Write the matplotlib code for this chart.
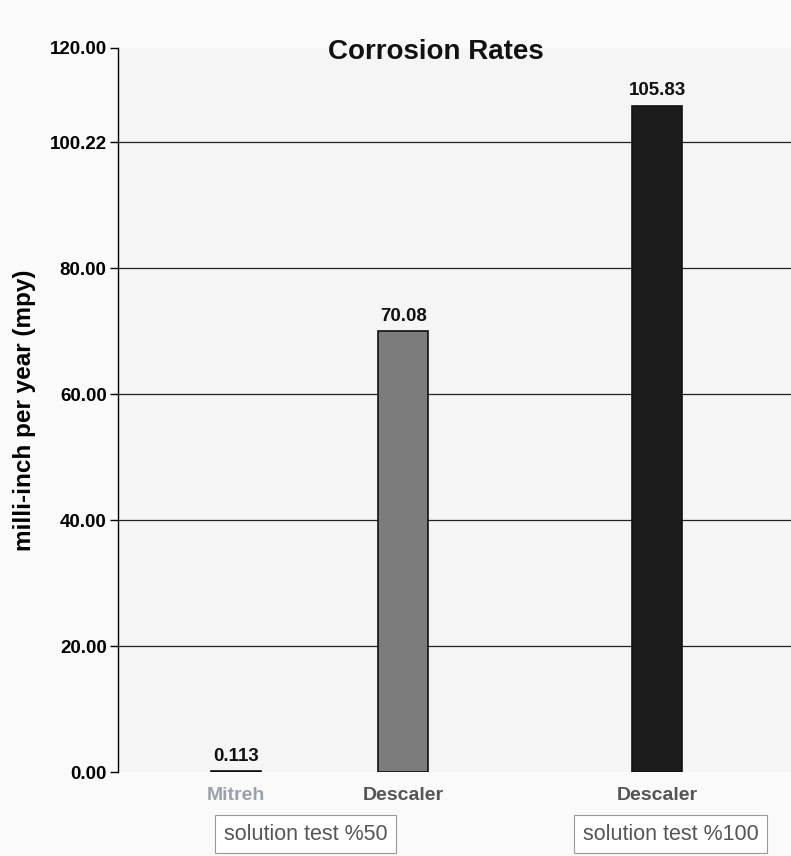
import matplotlib.pyplot as plt
import numpy as np

plt.rcParams['font.family'] = ['Liberation Sans', 'DejaVu Sans']

# values
categories = ['Mitreh', 'Descaler', 'Descaler']
rates = [0.113, 70.08, 105.83]
value_labels = ['0.113', '70.08', '105.83']
groups = ['solution test %50', 'solution test %100']
y_tick_labels = ['0.00', '20.00', '40.00', '60.00', '80.00', '100.22', '120.00']

bar_colors = ['#8a8f96', '#7c7c7c', '#1c1c1c']
label_colors = ['#9aa1aa', '#555555', '#555555']

fig = plt.figure(figsize=(7.91, 8.56), dpi=100)
fig.patch.set_facecolor('#fafafa')
ax = fig.add_axes([0.149, 0.098, 0.851, 0.846])
ax.set_facecolor('#f5f5f5')

x = np.array([0, 1, 2.52])
ax.bar(x, rates, width=0.3, color=bar_colors, edgecolor='#111111', linewidth=1.2, zorder=3)

for xi, v, lab in zip(x, rates, value_labels):
    ax.text(xi, v + 1.0, lab, ha='center', va='bottom', fontsize=13.5,
            fontweight='bold', color='#111111', zorder=4)

# the scanned axis tops out around 115 although it is labelled 120.00
ax.set_xlim(-0.707, 3.32)
ax.set_ylim(0, 115)
tick_pos = [0, 20, 40, 60, 80, 100, 115]
ax.set_yticks(tick_pos)
ax.set_yticklabels(y_tick_labels, fontsize=13.5, fontweight='bold')
for t in tick_pos[1:-1]:
    ax.axhline(t, color='#222222', linewidth=0.9, zorder=1)

ax.set_xticks([])
for s in ['top', 'right', 'bottom']:
    ax.spines[s].set_visible(False)
ax.spines['left'].set_linewidth(1.0)
ax.tick_params(axis='y', length=6, width=1.0, pad=2)

ax.set_ylabel('milli-inch per year (mpy)', fontsize=17.5, fontweight='bold', labelpad=10)
ax.text(0.472, 0.994, 'Corrosion Rates', transform=ax.transAxes, ha='center',
        va='center', fontsize=20, fontweight='bold', color='#111111')

# category labels under the bars
for xi, c, col in zip(x, categories, label_colors):
    ax.text(xi, -2.4, c, ha='center', va='top', fontsize=14, fontweight='bold',
            color=col, clip_on=False)

# group boxes
box_x = [0.415, 2.6]
for bx, g in zip(box_x, groups):
    ax.text(bx, -8.2, g, ha='center', va='top', fontsize=15.5, color='#555555',
            clip_on=False,
            bbox=dict(boxstyle='square,pad=0.4', facecolor='white',
                      edgecolor='#999999', linewidth=0.8))

fig.savefig('out.png', dpi=100, facecolor=fig.get_facecolor())
